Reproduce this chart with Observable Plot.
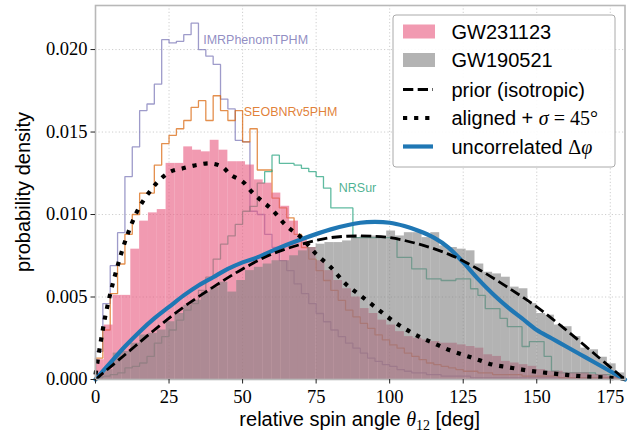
<!DOCTYPE html>
<html><head><meta charset="utf-8">
<script src="https://cdn.jsdelivr.net/npm/d3@7"></script>
<script src="https://cdn.jsdelivr.net/npm/@observablehq/plot@0.6"></script>
<style>body{margin:0;background:#fff}#chart{width:639px;height:436px}</style>
</head><body><div id="chart"></div>
<script>
// ---------- data ----------
const histBinWidth = 3; // degrees
const gw231123Density = [
 0.0012,0.0033,0.0051,0.0051,0.0079,0.0096,0.0101,0.0103,0.0131,0.0131,
 0.0141,0.0139,0.0138,0.0145,0.0139,0.0132,0.0132,0.0130,0.0121,0.0119,
 0.0113,0.0105,0.0096,0.0086,0.0080,0.0072,0.0066,0.0060,0.0055,0.0050,
 0.0043,0.0040,0.0036,0.0033,0.0029,0.0026,0.0025,0.0024,0.0023,0.0022,
 0.0022,0.0021,0.0020,0.0019,0.0015,0.0014,0.0011,0.0010,0.0009,0.0008,
 0.0006,0.0005,0.0005,0.0004,0.0004,0.0004,0.0003,0.0003,0.0002,0.0002];
const gw190521Density = [
 0.0002,0.0006,0.0016,0.0017,0.0022,0.0027,0.0028,0.0030,0.0035,0.0040,
 0.0045,0.0048,0.0053,0.0056,0.0059,0.0053,0.0060,0.0066,0.0068,0.0070,
 0.0072,0.0072,0.0075,0.0078,0.0080,0.0082,0.0083,0.0083,0.0084,0.0086,
 0.0087,0.0087,0.0086,0.0090,0.0087,0.0089,0.0089,0.0086,0.0089,0.0081,
 0.0080,0.0079,0.0078,0.0070,0.0065,0.0064,0.0062,0.0056,0.0055,0.0046,
 0.0040,0.0039,0.0033,0.0032,0.0026,0.0019,0.0018,0.00135,0.00095,0.0004];

const modelBinWidth = 2.5; // degrees
const imrphenomDensity = [
 0.0017,0.0046,0.0069,0.0089,0.0123,0.0141,0.0163,0.0167,0.0179,0.0206,
 0.0204,0.0205,0.0209,0.0216,0.0200,0.0196,0.0191,0.0170,0.0164,0.0145,
 0.0144,0.0102,0.0100,0.0088,0.0080,0.0072,0.0066,0.0058,0.0052,0.0046,
 0.0040,0.0035,0.0030,0.0026,0.0022,0.0019,0.0016,0.0013,0.0011,0.0009,
 0.0008,0.0006,0.0005,0.0004,0.0004,0.0003,0.0003,0.0002,0.0002,0.0002,
 0.0002,0.0001,0.0001,0.0001,0.0001,0.0001,0.0001,0.0001,0.0001,0.0001,
 0.0001,0.0001,0.0001,0.0001,0.0001,0.0001,0.0001,0.0001,0.0001,0.0001,
 0.0001,0.0001];
const seobnrDensity = [
 0.0013,0.0030,0.0052,0.0070,0.0088,0.0100,0.0113,0.0113,0.0130,0.0143,
 0.0148,0.0152,0.0157,0.0165,0.0169,0.0157,0.0172,0.0163,0.0157,0.0163,
 0.0144,0.0152,0.0127,0.0127,0.0110,0.0104,0.0098,0.0088,0.0080,0.0073,
 0.0066,0.0060,0.0054,0.0048,0.0042,0.0038,0.0034,0.0031,0.0027,0.0024,
 0.0021,0.0019,0.0016,0.0014,0.0012,0.0010,0.0009,0.0008,0.0007,0.0006,
 0.0005,0.0005,0.0004,0.0004,0.0003,0.0003,0.0003,0.0003,0.0002,0.0002,
 0.0002,0.0002,0.0002,0.0001,0.0001,0.0001,0.0001,0.0001,0.0001,0.0001,
 0.0001,0.0001];
const nrsurDensity = [
 0.0001,0.0002,0.0003,0.0004,0.0007,0.0008,0.0010,0.0014,0.0022,0.0026,
 0.0030,0.0036,0.0042,0.0046,0.0054,0.0062,0.0073,0.0082,0.0087,0.0094,
 0.0102,0.0105,0.0119,0.0126,0.0136,0.0131,0.0131,0.0130,0.0128,0.0126,
 0.0123,0.0116,0.0104,0.0104,0.0104,0.0086,0.0086,0.0086,0.0086,0.0086,
 0.0086,0.0074,0.0074,0.0067,0.0067,0.0061,0.0061,0.0060,0.0060,0.0061,
 0.0061,0.0055,0.0051,0.0043,0.0043,0.0037,0.0032,0.0032,0.0020,0.0023,
 0.0023,0.0014,0.0005,0.0004,0.0004,0.0004,0.0004,0.0004,0.0003,0.0003,
 0.0002,0.0001];

const priorAngle   = [0,10,20,30,40,50,60,70,80,90,100,110,120,130,140,150,160,170,180];
const priorDensity = [0,0.0015,0.0030,0.0044,0.0056,0.0067,0.0076,0.0082,0.0086,0.0087,0.0086,0.0082,0.0076,0.0067,0.0056,0.0044,0.0030,0.0015,0];

const alignedAngle = [0,1.7,3.4,5.3,7.7,10.5,13.9,16.1,18.9,21.8,25.5,29.7,34.4,39,43,46,50,53,56,60,65,70,75,80,85,90,95,100,105,110,115,120,125,130,135,140,145,150,155,160,165,170,175,180];
const alignedDensity = [0.0003,0.0022,0.0039,0.0054,0.0070,0.0086,0.0101,0.0108,0.0115,0.0121,0.0126,0.0128,0.0130,0.0131,0.0129,0.0124,0.0120,0.0114,0.0109,0.0103,0.0093,0.0086,0.0076,0.0068,0.0058,0.0051,0.0044,0.0037,0.0031,0.0026,0.0022,0.0018,0.0015,0.0012,0.0009,0.00075,0.0006,0.00047,0.00037,0.00028,0.0002,0.00015,0.0001,0.00005];

const uncorrAngle = [0,5,10,15,20,25,30,35,40,45,50,55,60,70,80,90,95,100,105,110,115,120,125,130,135,140,145,150,155,160,165,170,175,180];
const uncorrDensity = [0,0.0010,0.0020,0.0029,0.0037,0.0044,0.0051,0.0057,0.0062,0.0067,0.0071,0.0074,0.0078,0.0085,0.0091,0.0095,0.00955,0.0095,0.0093,0.0090,0.0086,0.0080,0.0071,0.0061,0.0052,0.0044,0.0037,0.0030,0.0025,0.0020,0.0015,0.0010,0.0005,0];

const xTicks = [0,25,50,75,100,125,150,175];
const yTicks = [0,0.005,0.010,0.015,0.020];

const modelNames   = ["IMRPhenomTPHM","SEOBNRv5PHM","NRSur"];
const modelColors  = ["#7570b3","#d95f02","#1b9e77"];
const labelAngle   = [36.6, 50.4, 82.7];
const labelDensity = [0.0206, 0.0162, 0.0116];

// ---------- helpers ----------
const toBars = (vals, w) => vals.map((v, i) => ({x1: i * w, x2: (i + 1) * w, y: v}));
const toSteps = (vals, w) => {
  const pts = [{x: 0, y: 0}];
  vals.forEach((v, i) => pts.push({x: i * w, y: v}));
  pts.push({x: vals.length * w, y: vals[vals.length - 1]});
  pts.push({x: vals.length * w, y: 0});
  return pts;
};
const toCurve = (xs, ys) => xs.map((x, i) => ({x, y: ys[i]}));

const PINK = "#e8577d", GRAY = "#808080", BLUE = "#1f77b4";
const sans = "Liberation Sans, Arial, sans-serif";
const serif = "Liberation Serif, Times New Roman, serif";

const modelSeries = [imrphenomDensity, seobnrDensity, nrsurDensity];
const labels = modelNames.map((n, i) => ({name: n, x: labelAngle[i], y: labelDensity[i], c: modelColors[i]}));

const plot = Plot.plot({
  width: 639, height: 436,
  marginLeft: 95, marginRight: 14.5, marginTop: 5, marginBottom: 57,
  style: {fontFamily: serif, fontSize: "19px", background: "white", color: "black"},
  x: {domain: [0, 180]},
  y: {domain: [0, 0.02267]},
  marks: [
    Plot.gridX(xTicks, {stroke: "#c8c8c8", strokeOpacity: 1, strokeWidth: 0.9, strokeDasharray: "1.2,2.2"}),
    Plot.gridY(yTicks, {stroke: "#c8c8c8", strokeOpacity: 1, strokeWidth: 0.9, strokeDasharray: "1.2,2.2"}),
    ...modelSeries.map((s, i) => Plot.line(toSteps(s, modelBinWidth), {
      x: "x", y: "y", curve: "step-after", stroke: modelColors[i], strokeWidth: 1.3, strokeOpacity: 0.7, strokeLinecap: "butt", strokeLinejoin: "miter"})),
    Plot.rectY(toBars(gw231123Density, histBinWidth), {x1: "x1", x2: "x2", y: "y", fill: PINK, fillOpacity: 0.6}),
    Plot.rectY(toBars(gw190521Density, histBinWidth), {x1: "x1", x2: "x2", y: "y", fill: GRAY, fillOpacity: 0.6}),
    Plot.line(toCurve(uncorrAngle, uncorrDensity), {x: "x", y: "y", curve: "catmull-rom", stroke: BLUE, strokeWidth: 4.2}),
    Plot.line(toCurve(priorAngle, priorDensity), {x: "x", y: "y", curve: "catmull-rom", stroke: "black", strokeWidth: 2.8, strokeDasharray: "10.3,4.4", strokeLinecap: "butt"}),
    Plot.line(toCurve(alignedAngle, alignedDensity), {x: "x", y: "y", curve: "catmull-rom", stroke: "black", strokeWidth: 4.2, strokeDasharray: "4.2,6.9", strokeLinecap: "butt"}),
    Plot.text(labels, {x: "x", y: "y", text: "name", fill: "c", fillOpacity: 0.8, textAnchor: "start", lineAnchor: "middle", fontFamily: sans, fontSize: 12.5}),
    Plot.frame({stroke: "#b8b8b8", strokeWidth: 1.6}),
    Plot.axisX({ticks: xTicks, tickSize: 4.5, tickPadding: 6, label: null, stroke: "#222", fontSize: 18.5, fontFamily: serif}),
    Plot.axisY({ticks: yTicks, tickSize: 4.5, tickPadding: 3.5, label: null, stroke: "#222", tickFormat: d3.format(".3f"), fontSize: 18.5, fontFamily: serif})
  ]
});

// ---------- axis labels & legend ----------
const svg = d3.select(plot);
svg.append("text").attr("transform", "translate(30,192) rotate(-90)")
  .attr("text-anchor", "middle").attr("font-family", sans).attr("font-size", 20).attr("fill", "black")
  .text("probability density");
const xl = svg.append("text").attr("x", 359.7).attr("y", 426).attr("text-anchor", "middle")
  .attr("font-family", sans).attr("font-size", 20).attr("fill", "black");
xl.append("tspan").text("relative spin angle ");
xl.append("tspan").attr("font-family", serif).attr("font-style", "italic").text("θ");
xl.append("tspan").attr("font-family", serif).attr("font-size", 14).attr("dy", 4).text("12");
xl.append("tspan").attr("dy", -4).text(" [deg]");

const lg = svg.append("g").attr("text-anchor", "start");
lg.append("rect").attr("x", 393).attr("y", 15).attr("width", 222).attr("height", 152).attr("rx", 3)
  .attr("fill", "white").attr("fill-opacity", 0.9).attr("stroke", "#aaaaaa").attr("stroke-width", 1);
const rowY = [31.5, 60, 89.5, 118, 146.5];
lg.append("rect").attr("x", 403).attr("y", rowY[0] - 7).attr("width", 32).attr("height", 14).attr("fill", PINK).attr("fill-opacity", 0.6);
lg.append("rect").attr("x", 403).attr("y", rowY[1] - 7).attr("width", 32).attr("height", 14).attr("fill", GRAY).attr("fill-opacity", 0.6);
lg.append("line").attr("x1", 403).attr("x2", 433).attr("y1", rowY[2]).attr("y2", rowY[2]).attr("stroke", "black").attr("stroke-width", 2.8).attr("stroke-dasharray", "10.3,4.4");
lg.append("line").attr("x1", 403).attr("x2", 433).attr("y1", rowY[3]).attr("y2", rowY[3]).attr("stroke", "black").attr("stroke-width", 4.2).attr("stroke-dasharray", "4.2,6.9");
lg.append("line").attr("x1", 403).attr("x2", 433).attr("y1", rowY[4]).attr("y2", rowY[4]).attr("stroke", BLUE).attr("stroke-width", 4.2);
const legendText = (i) => lg.append("text").attr("x", 451.5).attr("y", rowY[i] + 7).attr("text-anchor", "start")
  .attr("font-family", sans).attr("font-size", 20).attr("fill", "black");
legendText(0).text("GW231123");
legendText(1).text("GW190521");
legendText(2).text("prior (isotropic)");
const t3 = legendText(3);
t3.append("tspan").text("aligned + ");
t3.append("tspan").attr("font-family", serif).attr("font-style", "italic").text("σ");
t3.append("tspan").attr("font-family", serif).text(" = 45°");
const t4 = legendText(4);
t4.append("tspan").text("uncorrelated ");
t4.append("tspan").attr("font-family", serif).text("Δ");
t4.append("tspan").attr("font-family", serif).attr("font-style", "italic").text("φ");

document.getElementById("chart").appendChild(plot);
</script></body></html>
